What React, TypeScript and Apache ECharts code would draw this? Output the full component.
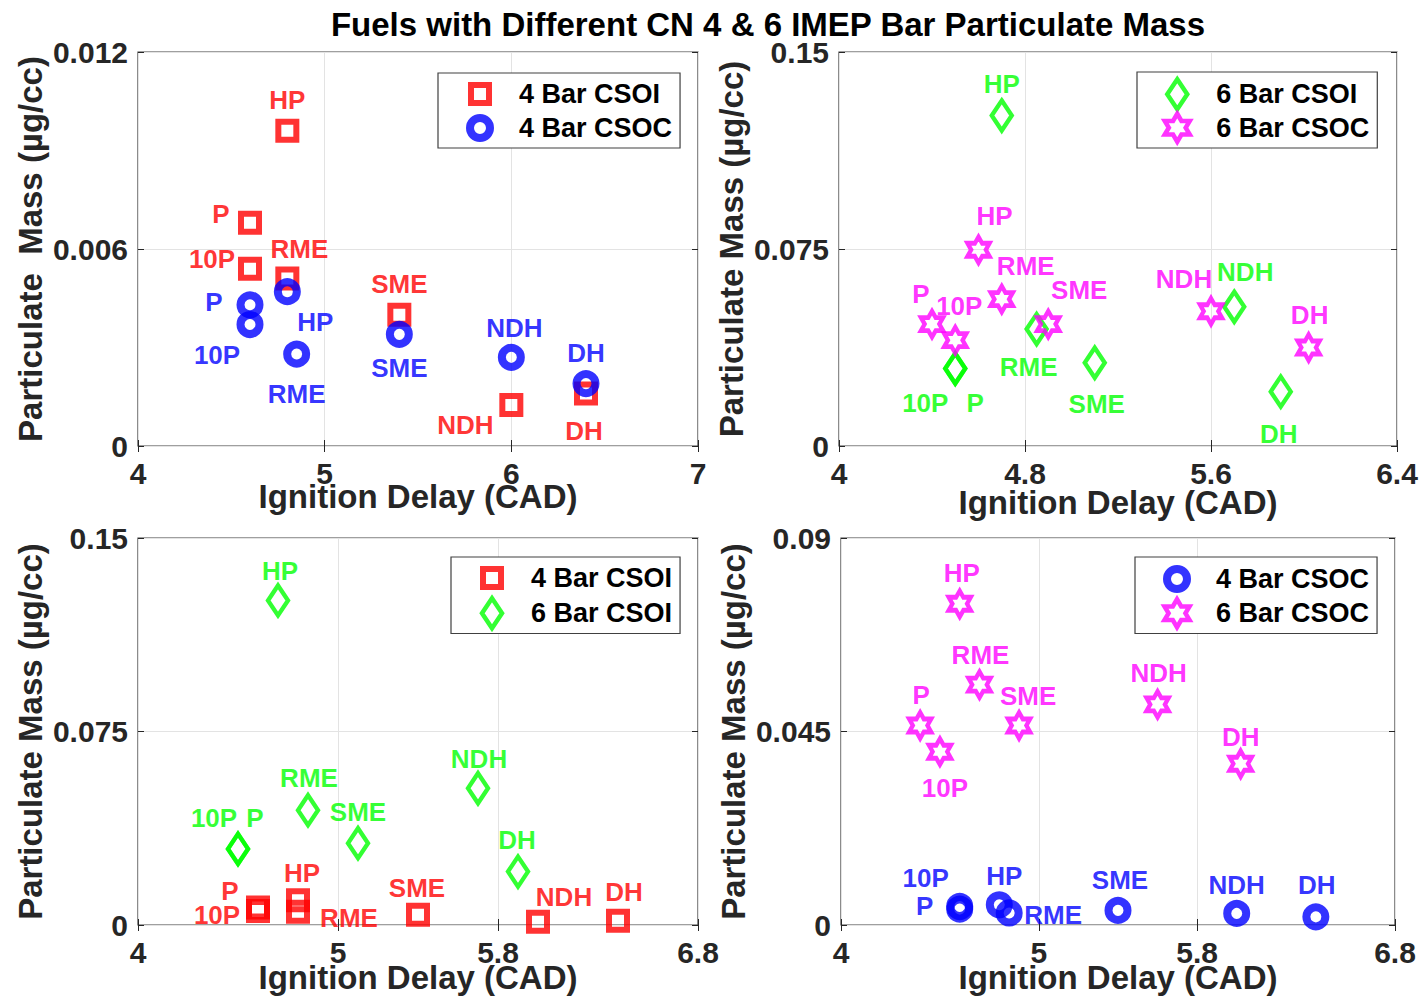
import React, { useEffect, useRef } from "react";
import * as echarts from "echarts";

const FONT = "'Liberation Sans', Arial, Helvetica, sans-serif";

// ---------- data ----------
const fuels = ["P", "10P", "HP", "RME", "SME", "NDH", "DH"];

const csoi4Delay = [4.6, 4.6, 4.8, 4.8, 5.4, 6.0, 6.4];
const csoi4PM = [0.0068, 0.0054, 0.0096, 0.0051, 0.004, 0.00125, 0.0016];
const csoc4Delay = [4.6, 4.6, 4.8, 4.85, 5.4, 6.0, 6.4];
const csoc4PM = [0.0043, 0.0037, 0.0047, 0.0028, 0.0034, 0.0027, 0.0019];
const csoi6Delay = [4.5, 4.5, 4.7, 4.85, 5.1, 5.7, 5.9];
const csoi6PM = [0.0295, 0.0295, 0.1258, 0.0445, 0.0317, 0.053, 0.0207];
const csoc6Delay = [4.4, 4.5, 4.6, 4.7, 4.9, 5.6, 6.02];
const csoc6PM = [0.0464, 0.0403, 0.0747, 0.0559, 0.0464, 0.0513, 0.0375];

const xTicksA = [4, 5, 6, 7];
const yTicksA = [0, 0.006, 0.012];
const xTicksB = [4, 4.8, 5.6, 6.4];
const yTicksB = [0, 0.075, 0.15];
const xTicksC = [4, 5, 5.8, 6.8];
const yTicksC = [0, 0.075, 0.15];
const xTicksD = [4, 5, 5.8, 6.8];
const yTicksD = [0, 0.045, 0.09];

const chartTitle = "Fuels with Different CN 4 & 6 IMEP Bar Particulate Mass";
const xTitle = "Ignition Delay (CAD)";
const yTitleA = "Particulate  Mass (µg/cc)";
const yTitle = "Particulate Mass (µg/cc)";

// ---------- label offsets (px) ----------
const offA_csoi4 = [[-29, -9], [-38, -10], [0, -31], [12, -30], [0, -31], [-46, 20], [-2, 38]];
const offA_csoc4 = [[-36, -3], [-33, 30], [28, 30], [0, 40], [0, 34], [3, -29], [0, -31]];
const offB_csoi6 = [[20, 34], [-30, 34], [0, -32], [-8, 38], [2, 41], [11, -35], [-2, 42]];
const offB_csoc6 = [[-11, -30], [4, -34], [16, -34], [24, -33], [31, -34], [-27, -32], [1, -33]];
const offC_csoi4 = [[-28, -16], [-41, 4], [4, -27], [51, 6], [-1, -27], [26, -25], [6, -29]];
const offC_csoi6 = [[17, -31], [-24, -31], [2, -29], [1, -32], [0, -31], [1, -29], [-1, -32]];
const offD_csoc4 = [[-35, -1], [-34, -31], [5, -29], [44, 2], [2, -30], [0, -28], [1, -32]];
const offD_csoc6 = [[1, -30], [5, 36], [2, -31], [1, -30], [9, -29], [1, -31], [0, -27]];

// ---------- symbols ----------
const HEX =
  "path://M100 0L128.87 50L186.6 50L157.7 100L186.6 150L128.87 150L100 200L71.13 150L13.4 150L42.3 100L13.4 50L71.13 50Z";
// legend icons share a 30x30 bounding box (the two lone moveTo points set it)
const SQUARE_ICON = "path://M0 0M30 30M6 6L24 6L24 24L6 24Z";
const CIRCLE_ICON = "path://M0 0M30 30M5 15A10 10 0 1 1 25 15A10 10 0 1 1 5 15Z";
const DIAMOND_ICON = "path://M0 0M30 30M15 0L25 15L15 30L5 15Z";
const HEX_ICON =
  "path://M0 0M30 30M15 1L19.2 8.25L27.5 8.25L23.4 15L27.5 21.75L19.2 21.75L15 29L10.8 21.75L2.5 21.75L6.6 15L2.5 8.25L10.8 8.25Z";

const styles: Record<string, any> = {
  "4 Bar CSOI": { color: "#ff0000", symbol: "rect", size: 18, bw: 6, icon: SQUARE_ICON },
  "4 Bar CSOC": { color: "#0000ff", symbol: "circle", size: 19, bw: 8, icon: CIRCLE_ICON },
  "6 Bar CSOI": { color: "#00ff00", symbol: "diamond", size: [20, 30], bw: 4.5, icon: DIAMOND_ICON },
  "6 Bar CSOC": { color: "#ff00ff", symbol: HEX, size: [22, 26], bw: 4.5, icon: HEX_ICON },
};

const panels = [
  {
    grid: { left: 138, top: 52, width: 560, height: 394 },
    xMin: 4, xMax: 7, xTicks: xTicksA, yMax: 0.012, yTicks: yTicksA, yName: yTitleA, xNameGap: 34,
    legend: { left: 438, top: 73, padding: [3, 8, 1, 23], gap: -3 },
    series: [
      ["4 Bar CSOI", csoi4Delay, csoi4PM, offA_csoi4],
      ["4 Bar CSOC", csoc4Delay, csoc4PM, offA_csoc4],
    ],
  },
  {
    grid: { left: 839, top: 52, width: 558, height: 394 },
    xMin: 4, xMax: 6.4, xTicks: xTicksB, yMax: 0.15, yTicks: yTicksB, yName: yTitle, xNameGap: 40,
    legend: { left: 1137, top: 72, padding: [5, 8, 3, 23], gap: -1 },
    series: [
      ["6 Bar CSOI", csoi6Delay, csoi6PM, offB_csoi6],
      ["6 Bar CSOC", csoc6Delay, csoc6PM, offB_csoc6],
    ],
  },
  {
    grid: { left: 138, top: 538, width: 560, height: 387 },
    xMin: 4, xMax: 6.8, xTicks: xTicksC, yMax: 0.15, yTicks: yTicksC, yName: yTitle, xNameGap: 36,
    legend: { left: 451, top: 557, padding: [3, 8, 3, 23], gap: 0 },
    series: [
      ["4 Bar CSOI", csoi4Delay, csoi4PM, offC_csoi4],
      ["6 Bar CSOI", csoi6Delay, csoi6PM, offC_csoi6],
    ],
  },
  {
    grid: { left: 841, top: 538, width: 554, height: 387 },
    xMin: 4, xMax: 6.8, xTicks: xTicksD, yMax: 0.09, yTicks: yTicksD, yName: yTitle, xNameGap: 36,
    legend: { left: 1135, top: 557, padding: [3, 8, 3, 23], gap: -2 },
    series: [
      ["4 Bar CSOC", csoc4Delay, csoc4PM, offD_csoc4],
      ["6 Bar CSOC", csoc6Delay, csoc6PM, offD_csoc6],
    ],
  },
];

const AX = "#262626";
const tickLabel = { fontFamily: FONT, fontSize: 30, fontWeight: "bold", color: AX };
const nameStyle = { fontFamily: FONT, fontSize: 33, fontWeight: "bold", color: AX };

function buildOption() {
  const grid: any[] = [];
  const xAxis: any[] = [];
  const yAxis: any[] = [];
  const series: any[] = [];
  const legend: any[] = [];

  panels.forEach((p, i) => {
    grid.push({ ...p.grid, show: true, borderColor: "#404040", borderWidth: 1.2, outerBoundsMode: "none", containLabel: false });
    xAxis.push({
      type: "value", gridIndex: i, min: p.xMin, max: p.xMax, position: "bottom",
      name: xTitle, nameLocation: "middle", nameGap: p.xNameGap, nameTextStyle: nameStyle,
      nameMoveOverlap: false,
      axisLine: { show: false },
      axisTick: { show: true, inside: true, length: 6, customValues: p.xTicks, lineStyle: { color: AX } },
      axisLabel: { customValues: p.xTicks, margin: 12, formatter: (v: number) => String(v), ...tickLabel },
      splitLine: { show: true, lineStyle: { color: "#e3e3e3", width: 1 } },
    });
    xAxis.push({
      type: "value", gridIndex: i, min: p.xMin, max: p.xMax, position: "top",
      axisLine: { show: false },
      axisTick: { show: true, inside: true, length: 6, customValues: p.xTicks, lineStyle: { color: AX } },
      axisLabel: { show: false },
      splitLine: { show: false },
    });
    yAxis.push({
      type: "value", gridIndex: i, min: 0, max: p.yMax, position: "left",
      name: p.yName, nameLocation: "middle", nameGap: 91, nameTextStyle: nameStyle,
      nameMoveOverlap: false,
      axisLine: { show: false },
      axisTick: { show: true, inside: true, length: 6, customValues: p.yTicks, lineStyle: { color: AX } },
      axisLabel: { customValues: p.yTicks, margin: 10, formatter: (v: number) => String(v), ...tickLabel },
      splitLine: { show: true, lineStyle: { color: "#e3e3e3", width: 1 } },
    });
    yAxis.push({
      type: "value", gridIndex: i, min: 0, max: p.yMax, position: "right",
      axisLine: { show: false },
      axisTick: { show: true, inside: true, length: 6, customValues: p.yTicks, lineStyle: { color: AX } },
      axisLabel: { show: false },
      splitLine: { show: false },
    });

    p.series.forEach((s: any) => {
      const [name, xs, ys, offs] = s;
      const st = styles[name];
      series.push({
        type: "scatter",
        name,
        xAxisIndex: 2 * i,
        yAxisIndex: 2 * i,
        symbol: st.symbol,
        symbolSize: st.size,
        itemStyle: { color: "rgba(0,0,0,0)", borderColor: st.color, borderWidth: st.bw },
        label: {
          show: true, position: "inside", formatter: "{b}", color: st.color,
          fontFamily: FONT, fontSize: 26, fontWeight: "bold",
        },
        emphasis: { disabled: true },
        data: xs.map((x: number, k: number) => ({
          name: fuels[k],
          value: [x, ys[k]],
          label: { offset: offs[k] },
        })),
      });
    });

    legend.push({
      orient: "vertical",
      left: p.legend.left,
      top: p.legend.top,
      padding: p.legend.padding,
      itemGap: p.legend.gap,
      itemWidth: 30,
      itemHeight: 30,
      symbolKeepAspect: true,
      backgroundColor: "#ffffff",
      borderColor: "#404040",
      borderWidth: 1.2,
      borderRadius: 0,
      selectedMode: false,
      textStyle: {
        fontFamily: FONT, fontSize: 27, fontWeight: "bold", color: "#000", lineHeight: 24,
        padding: [0, 0, 0, 19],
      },
      data: p.series.map((s: any) => {
        const st = styles[s[0]];
        return {
          name: s[0],
          icon: st.icon,
          itemStyle: { color: "rgba(0,0,0,0)", borderColor: st.color, borderWidth: st.bw },
        };
      }),
    });
  });

  return {
    animation: false,
    backgroundColor: "#ffffff",
    title: {
      text: chartTitle,
      left: 763,
      top: 3,
      textAlign: "center",
      textStyle: { fontFamily: FONT, fontSize: 33, fontWeight: "bold", color: "#000" },
    },
    grid,
    xAxis,
    yAxis,
    legend,
    series,
  };
}

export default function App() {
  const ref = useRef<HTMLDivElement>(null);
  useEffect(() => {
    if (!ref.current) return;
    const chart = echarts.init(ref.current, undefined, { renderer: "svg" });
    chart.setOption(buildOption() as any);
    return () => chart.dispose();
  }, []);
  return (
    <div
      ref={ref}
      style={{ position: "fixed", left: 0, top: 0, width: 1421, height: 999, background: "#fff" }}
    />
  );
}
